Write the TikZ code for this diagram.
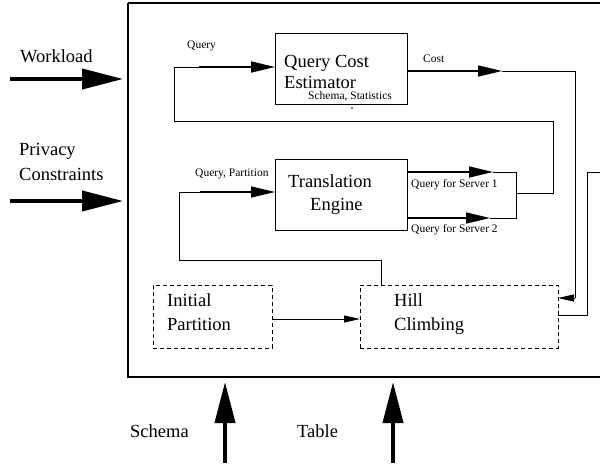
\documentclass[tikz,border=0pt]{standalone}
\usepackage{fontspec}
\setmainfont{Liberation Serif}
\newfontfamily\timesfont{Liberation Serif}
\usetikzlibrary{arrows.meta}
\begin{document}
\begin{tikzpicture}[x=1pt,y=-1pt,
  box/.style={draw,line width=0.9pt,inner sep=0pt,anchor=north west},
  dbox/.style={box,dashed,dash pattern=on 4pt off 3pt},
  big/.style={font=\timesfont\fontsize{18.5}{20}\selectfont,inner sep=0pt,anchor=base west},
  small/.style={font=\timesfont\fontsize{11.5}{12}\selectfont,inner sep=0pt,anchor=base west},
  wire/.style={line width=0.9pt},
  marrow/.style={line width=1.6pt,-{Triangle[length=24pt,width=11pt]}},
  sarrow/.style={line width=0.9pt,-{Triangle[length=16pt,width=7pt]}},
  fat/.style={line width=4pt,-{Triangle[length=41pt,width=20pt]}}
]
\useasboundingbox (0,0) rectangle (600,468);
% outer frame
\draw[line width=1.3pt] (128,3) -- (606,3) (128,3) -- (128,377) -- (606,377);
% boxes
\node[box,minimum width=132pt,minimum height=71pt] (qce) at (275,33) {};
\node[box,minimum width=132pt,minimum height=71pt] (te) at (275,159) {};
\node[dbox,minimum width=119pt,minimum height=63pt] (ip) at (153,285) {};
\node[dbox,minimum width=198pt,minimum height=63pt] (hc) at (360,285) {};
% box texts
\node[big] (t1) at (284,68) {Query Cost};
\node[big] (t2) at (284,89) {Estimator};
\node[small] (t3) at (308,100) {Schema, Statistics};
\node[big] (t4) at (288,188) {Translation};
\node[big] (t5) at (310,211) {Engine};
\node[big] (t6) at (167,306) {Initial};
\node[big] (t7) at (167,330) {Partition};
\node[big] (t8) at (394,306) {Hill};
\node[big] (t9) at (394,330) {Climbing};
\fill (352,108) circle (0.9pt);
% outside labels
\node[big] (wl) at (20,63) {Workload};
\node[big] (pc1) at (19,156) {Privacy};
\node[big] (pc2) at (19,180) {Constraints};
\node[big] (sc) at (130,437) {Schema};
\node[big] (tb) at (297,437) {Table};
% small labels
\node[small] (lq) at (187,49) {Query};
\node[small] (lc) at (423,63) {Cost};
\node[small] (lqp) at (195,176) {Query, Partition};
\node[small] (ls1) at (411,188) {Query for Server 1};
\node[small] (ls2) at (411,233) {Query for Server 2};
% coordinates
\coordinate (wa) at (10,79);   \coordinate (wb) at (123,79);
\coordinate (pa) at (10,201);  \coordinate (pb) at (123,201);
\coordinate (sa) at (225,463); \coordinate (sb) at (225,382);
\coordinate (ta) at (393,463); \coordinate (tb2) at (393,382);
\coordinate (s1a) at (407,172); \coordinate (s1t) at (493,172); \coordinate (s1e) at (516,172);
\coordinate (s2a) at (407,218); \coordinate (s2t) at (490,218); \coordinate (s2e) at (516,218);
\coordinate (j) at (516,193);
\coordinate (ca) at (407,71); \coordinate (ct) at (502,71); \coordinate (cc) at (575,71);
\coordinate (ch) at (575,298); \coordinate (hin) at (558,298);
\coordinate (hout) at (558,315); \coordinate (ho1) at (587,315); \coordinate (ho2) at (587,172); \coordinate (ho3) at (606,172);
\coordinate (qin) at (275,67);
\coordinate (tin) at (275,192);
\coordinate (htop) at (381,285);
\coordinate (ipo) at (272,319); \coordinate (hci) at (360,319);
% big input arrows
\draw[fat] (wa) -- (wb);
\draw[fat] (pa) -- (pb);
\draw[fat] (sa) -- (sb);
\draw[fat] (ta) -- (tb2);
% loop from translation outputs back to query cost estimator
\draw[wire] (j) -- (553,193) -- (553,121) -- (174,121) -- (174,67) -- (199,67);
\draw[marrow] (199,67) -- (qin);
% translation outputs
\draw[marrow] (s1a) -- (s1t);
\draw[wire] (s1t) -- (s1e) -- (s2e) -- (s2t);
\draw[marrow] (s2a) -- (s2t);
% cost to hill climbing
\draw[marrow] (ca) -- (ct);
\draw[wire] (ct) -- (cc) -- (ch);
\draw[sarrow] (ch) -- (hin);
% hill climbing out
\draw[wire] (hout) -- (ho1) -- (ho2) -- (ho3);
% hill climbing to translation engine
\draw[wire] (htop) -- (381,260) -- (179,260) -- (179,192) -- (200,192);
\draw[marrow] (200,192) -- (tin);
% initial partition to hill climbing
\draw[sarrow] (ipo) -- (hci);
\end{tikzpicture}
\end{document}
